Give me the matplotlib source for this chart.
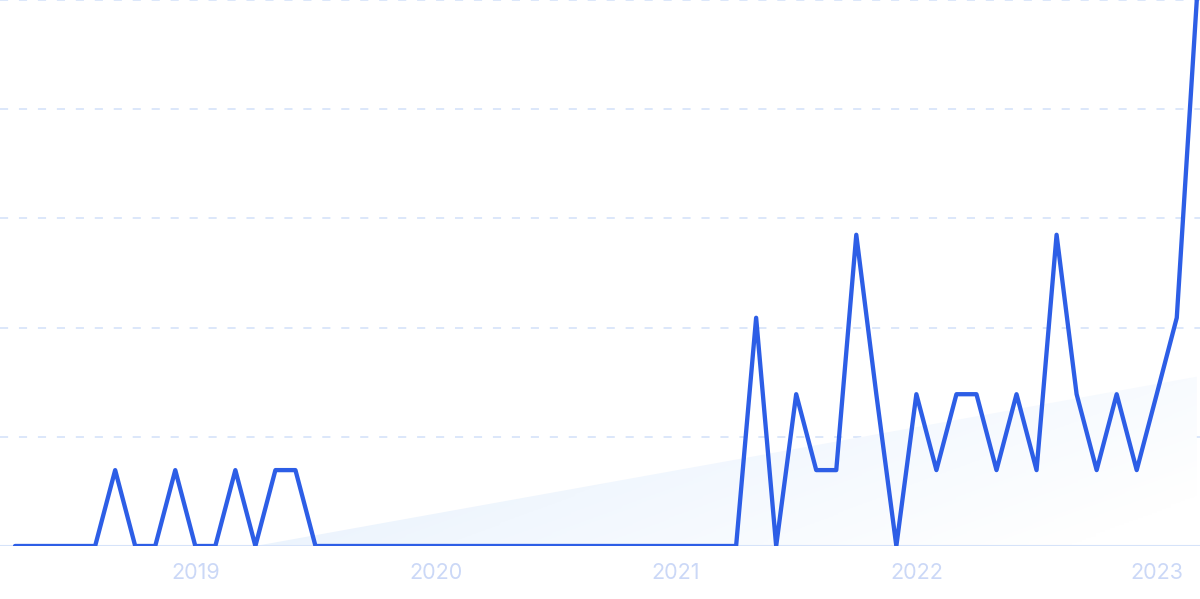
import numpy as np
import pandas as pd
import matplotlib
matplotlib.use("Agg")
import matplotlib.pyplot as plt
from matplotlib.colors import LinearSegmentedColormap

# monthly values, Apr 2018 .. Mar 2023 (scaled 0-100)
months = pd.date_range("2018-04-01", "2023-03-01", freq="MS")
values = [0, 0, 0, 0, 0, 13.9, 0, 0, 13.9, 0, 0, 13.9,
          0, 13.9, 13.9, 0, 0, 0, 0, 0, 0, 0, 0, 0,
          0, 0, 0, 0, 0, 0, 0, 0, 0, 0, 0, 0,
          0, 41.8, 0, 27.8, 13.9, 13.9, 57.0, 27.8, 0, 27.8, 13.9, 27.8,
          27.8, 13.9, 27.8, 13.9, 57.0, 27.8, 13.9, 27.8, 13.9, 27.8, 41.8, 100]
year_ticks = ["2019", "2020", "2021", "2022", "2023"]
# trend area: start (month index, value) and end
trend_idx = [12, 59]
trend_val = [0, 31]
gridlines = [20, 40, 60, 80, 100]

line_color = "#2d5ee6"
grid_color = "#d9e5fa"
text_color = "#cbd8f7"

fig = plt.figure(figsize=(12, 5.99), dpi=100)
ax = fig.add_axes([0, 53 / 599, 1, 546 / 599])

x = np.arange(len(values))
ax.set_xlim(-0.75, 59.16)
ax.set_ylim(0, 100)

# gradient-filled trend triangle
poly = ax.fill_between(trend_idx, [0, 0], trend_val, color="none", lw=0)
cmap = LinearSegmentedColormap.from_list("g", ["#e1edfc", "#f1f7fe", "#ffffff"])
gx, gy = np.meshgrid(np.linspace(0, 1, 200), np.linspace(0, 1, 100))
grad = gx * 0.75 + (1 - gy) * 0.35
img = ax.imshow(grad, extent=[trend_idx[0], trend_idx[1], 0, trend_val[1]],
                origin="lower", aspect="auto", cmap=cmap, vmin=0, vmax=1, zorder=1)
img.set_clip_path(poly.get_paths()[0], transform=ax.transData)

for g in gridlines:
    ax.axhline(g, color=grid_color, lw=1.3, dashes=(4.5, 6), zorder=0)
ax.axhline(0, color="#d6e3f9", lw=1.5, zorder=2)

ax.plot(x, values, color=line_color, lw=3.1, solid_joinstyle="round",
        solid_capstyle="round", zorder=3)

tick_pos = [months.get_loc(pd.Timestamp(f"{y}-01-01")) for y in year_ticks]
ax.set_xticks(tick_pos)
ax.set_xticklabels(year_ticks, color=text_color, fontsize=15.5, family="Inter")
ax.tick_params(axis="x", length=0, pad=12)
ax.set_yticks([])
for s in ax.spines.values():
    s.set_visible(False)

fig.savefig("out.png", dpi=100)
